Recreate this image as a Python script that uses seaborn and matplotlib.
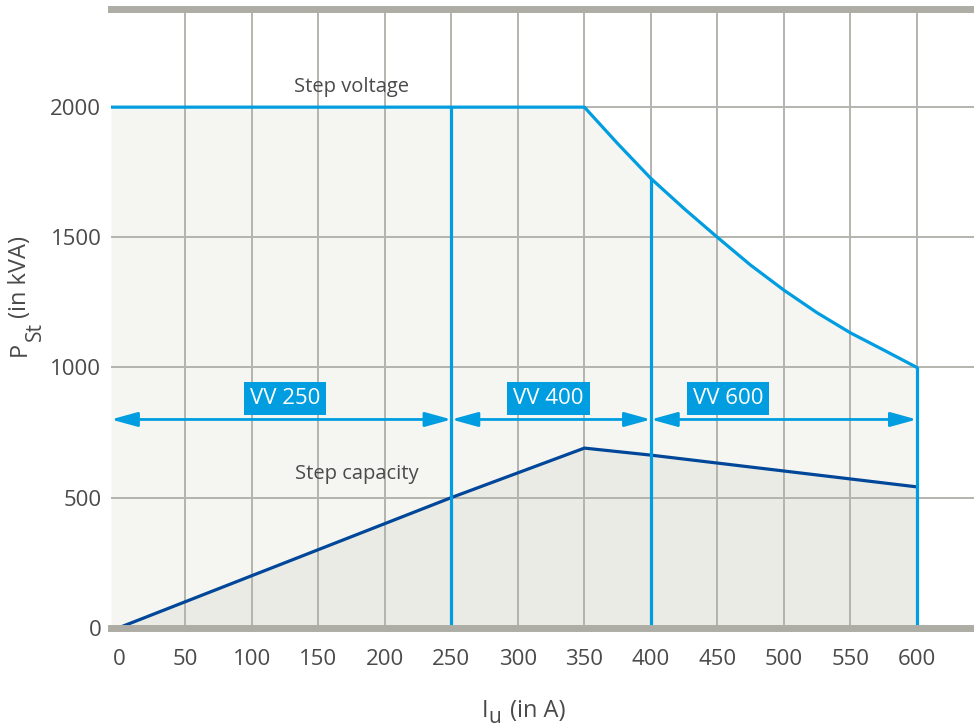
import numpy as np
import seaborn as sns
import matplotlib.pyplot as plt
import pandas as pd
from matplotlib.transforms import IdentityTransform

# step voltage curve (kVA)
volt_x = [-6, 350, 375, 400, 425, 450, 475, 500, 525, 550, 575, 600]
volt_y = [2000, 2000, 1860, 1726, 1610, 1500, 1393, 1297, 1210, 1133, 1067, 1000]

# step capacity curve (kVA)
cap_x = [0, 250, 350, 400, 600]
cap_y = [0, 500, 690, 663, 541]

# switch ranges
vv_labels = ["VV 250", "VV 400", "VV 600"]
vv_bounds = [-6, 250, 400, 600]
vv_label_x = [125, 323, 458]
arrow_y = 800
label_y = 882

x_ticks = list(range(0, 601, 50))
y_ticks = [0, 500, 1000, 1500, 2000]

light_blue = "#009de0"
dark_blue = "#00479a"
grid_col = "#b4b4ae"
spine_col = "#adaca5"
text_col = "#4a4a4a"

sns.set_style("white")
plt.rcParams['font.family'] = ['Open Sans', 'DejaVu Sans']

fig = plt.figure(figsize=(9.74, 7.28), dpi=100)
ax = fig.add_axes([0.114, 0.1378, 0.886, 0.8498])

volt = pd.DataFrame({"I": volt_x, "P": volt_y})
cap = pd.DataFrame({"I": cap_x, "P": cap_y})

ax.fill_between(volt["I"], 0, volt["P"], color="#f5f5f1", lw=0, zorder=0)
ax.fill_between(cap["I"], 0, cap["P"], color="#ebebe6", lw=0, zorder=0.5)

# grid
for t in x_ticks[1:]:
    ax.axvline(t, color=grid_col, lw=1.4, zorder=1)
for t in y_ticks[1:]:
    ax.axhline(t, color=grid_col, lw=1.4, zorder=1)

sns.lineplot(data=volt, x="I", y="P", color=light_blue, lw=2.3, ax=ax, zorder=3)
sns.lineplot(data=cap, x="I", y="P", color=dark_blue, lw=2.3, ax=ax, zorder=3)
ax.set_xlabel("")
ax.set_ylabel("")

tops = np.interp(vv_bounds[1:], volt_x, volt_y)
ax.vlines(vv_bounds[1:], 0, tops, color=light_blue, lw=2.3, zorder=3)

for i, lab in enumerate(vv_labels):
    ax.annotate("", xy=(vv_bounds[i + 1], arrow_y), xytext=(vv_bounds[i], arrow_y),
                arrowprops=dict(arrowstyle="<|-|>,head_length=0.8,head_width=0.22",
                                mutation_scale=20, color=light_blue, lw=2,
                                shrinkA=0, shrinkB=0), zorder=4)
    ax.text(vv_label_x[i], label_y, lab, ha="center", va="center", color="white",
            fontsize=16, zorder=5,
            bbox=dict(boxstyle="square,pad=0.27", fc=light_blue, ec="none"))

ax.text(175, 2077, "Step voltage", ha="center", va="center", fontsize=14.5, color=text_col)
ax.text(179, 590, "Step capacity", ha="center", va="center", fontsize=14.5, color=text_col)

ax.set_xlim(-6, 643)
ax.set_ylim(0, 2377)
ax.set_xticks(x_ticks)
ax.set_yticks(y_ticks)
ax.tick_params(axis="both", length=0, labelsize=16, colors=text_col)
ax.tick_params(axis="x", pad=15)
ax.tick_params(axis="y", pad=7)

for s in ["left", "right"]:
    ax.spines[s].set_visible(False)
for s in ["top", "bottom"]:
    ax.spines[s].set_color(spine_col)
    ax.spines[s].set_linewidth(5)
    ax.spines[s].set_zorder(6)


def subscript_label(pieces, centre, base, vertical=False):
    # pieces: (text, fontsize, drop in px, gap before in px)
    r = fig.canvas.get_renderer()
    arts = []
    for s, fs, drop, gap in pieces:
        t = fig.text(0, 0, s, fontsize=fs, color=text_col, ha="left", va="baseline",
                     rotation=90 if vertical else 0, rotation_mode="anchor",
                     transform=IdentityTransform())
        bb = t.get_window_extent(r)
        arts.append((t, drop, gap, bb.height if vertical else bb.width))
    total = sum(a[2] + a[3] for a in arts)
    pos = centre - total / 2
    for t, drop, gap, length in arts:
        pos += gap
        if vertical:
            t.set_position((base + drop, pos))
        else:
            t.set_position((pos, base - drop))
        pos += length


H = 728
subscript_label([("I", 17, 0, 0), ("u", 15, 6, 0), ("(in A)", 17, 0, 9)],
                centre=524, base=H - 717)
subscript_label([("P", 17, 0, 0), ("St", 15, 15, 0), ("(in kVA)", 17, 0, 4)],
                centre=H - 296, base=26, vertical=True)

fig.savefig("out.png", dpi=100)
